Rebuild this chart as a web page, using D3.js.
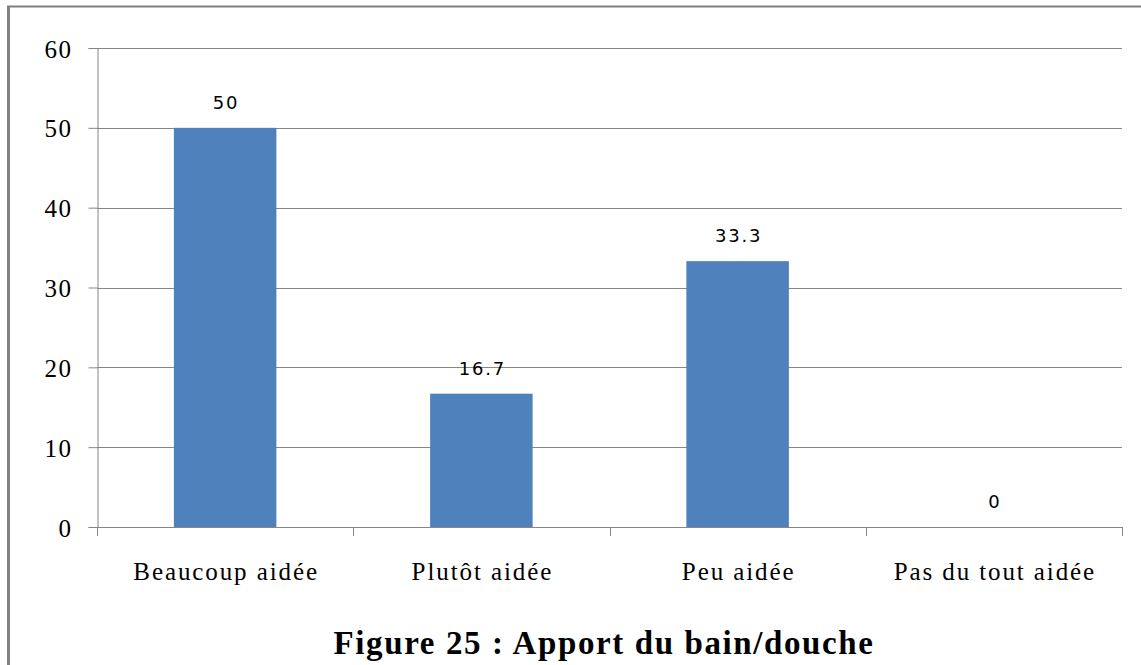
<!DOCTYPE html>
<html><head><meta charset="utf-8">
<script src="https://cdn.jsdelivr.net/npm/d3@7"></script>
<style>html,body{margin:0;padding:0;background:#fff;}svg{display:block;}</style>
</head><body>
<svg id="c" width="1141" height="665"></svg>
<script>
const categories = ["Beaucoup aidée", "Plutôt aidée", "Peu aidée", "Pas du tout aidée"];
const values = [50, 16.7, 33.3, 0];
const valueLabels = ["50", "16.7", "33.3", "0"];
const yTicks = [0, 10, 20, 30, 40, 50, 60];
const title = "Figure 25 : Apport du bain/douche";

const svg = d3.select("#c");
const W = 1141, H = 665;
const pLeft = 97, pRight = 1122, pTop = 48, pBottom = 527;

// frame border
svg.append("line").attr("x1", 7).attr("x2", W).attr("y1", 6.5).attr("y2", 6.5)
  .attr("stroke", "#808080").attr("stroke-width", 2);
svg.append("line").attr("x1", 8.5).attr("x2", 8.5).attr("y1", 6).attr("y2", H)
  .attr("stroke", "#808080").attr("stroke-width", 3);

const x = d3.scaleBand().domain(categories).range([pLeft, pRight]).paddingInner(0.6).paddingOuter(0.3);
const y = d3.scaleLinear().domain([0, 60]).range([pBottom, pTop]);

// gridlines
svg.append("g").selectAll("line").data(yTicks.filter(d => d > 0)).join("line")
  .attr("x1", pLeft).attr("x2", pRight)
  .attr("y1", d => Math.round(y(d)) + 0.5).attr("y2", d => Math.round(y(d)) + 0.5)
  .attr("stroke", "#868686").attr("stroke-width", 1);

// y axis
const yAxis = d3.axisLeft(y).tickValues(yTicks).tickSize(9).tickPadding(16).tickFormat(d3.format("d"));
const gy = svg.append("g").attr("transform", `translate(${pLeft + 0.5},0)`).call(yAxis);
gy.select(".domain").attr("stroke", "#868686");
gy.selectAll(".tick line").attr("stroke", "#868686");
gy.selectAll(".tick text").attr("font-family", "Liberation Serif, Times New Roman, serif")
  .attr("font-size", 25).attr("fill", "#000").attr("letter-spacing", 1.5).attr("dy", "0.36em");

// bars
svg.append("g").selectAll("rect").data(values).join("rect")
  .attr("x", (d, i) => x(categories[i]))
  .attr("width", x.bandwidth())
  .attr("y", d => y(d))
  .attr("height", d => y(0) - y(d))
  .attr("fill", "#4f81bd");

// x axis
const step = x.step();
const gx = svg.append("g");
gx.append("line").attr("x1", pLeft).attr("x2", pRight)
  .attr("y1", Math.round(y(0)) + 0.5).attr("y2", Math.round(y(0)) + 0.5).attr("stroke", "#868686");
const bounds = d3.range(categories.length + 1).map(i => pLeft + i * step);
gx.selectAll("line.t").data(bounds).join("line").attr("class", "t")
  .attr("x1", d => Math.round(d) + 0.5).attr("x2", d => Math.round(d) + 0.5)
  .attr("y1", y(0)).attr("y2", y(0) + 9).attr("stroke", "#868686");
gx.selectAll("text").data(categories).join("text")
  .attr("x", d => x(d) + x.bandwidth() / 2 + 1).attr("y", 580)
  .attr("text-anchor", "middle")
  .attr("font-family", "Liberation Serif, Times New Roman, serif")
  .attr("font-size", 25).attr("letter-spacing", 1.9).attr("fill", "#000")
  .text(d => d);

// value labels
svg.append("g").selectAll("text").data(values).join("text")
  .attr("x", (d, i) => x(categories[i]) + x.bandwidth() / 2 + 1)
  .attr("y", d => y(d) - 19)
  .attr("text-anchor", "middle")
  .attr("font-family", "DejaVu Sans, Verdana, sans-serif")
  .attr("font-size", 18).attr("letter-spacing", 1.8).attr("fill", "#000")
  .text((d, i) => valueLabels[i]);

// title
svg.append("text").attr("x", 604).attr("y", 654).attr("text-anchor", "middle")
  .attr("font-family", "Liberation Serif, Times New Roman, serif")
  .attr("font-weight", "bold").attr("font-size", 33).attr("letter-spacing", 1.6).attr("fill", "#000")
  .text(title);
</script>
</body></html>
